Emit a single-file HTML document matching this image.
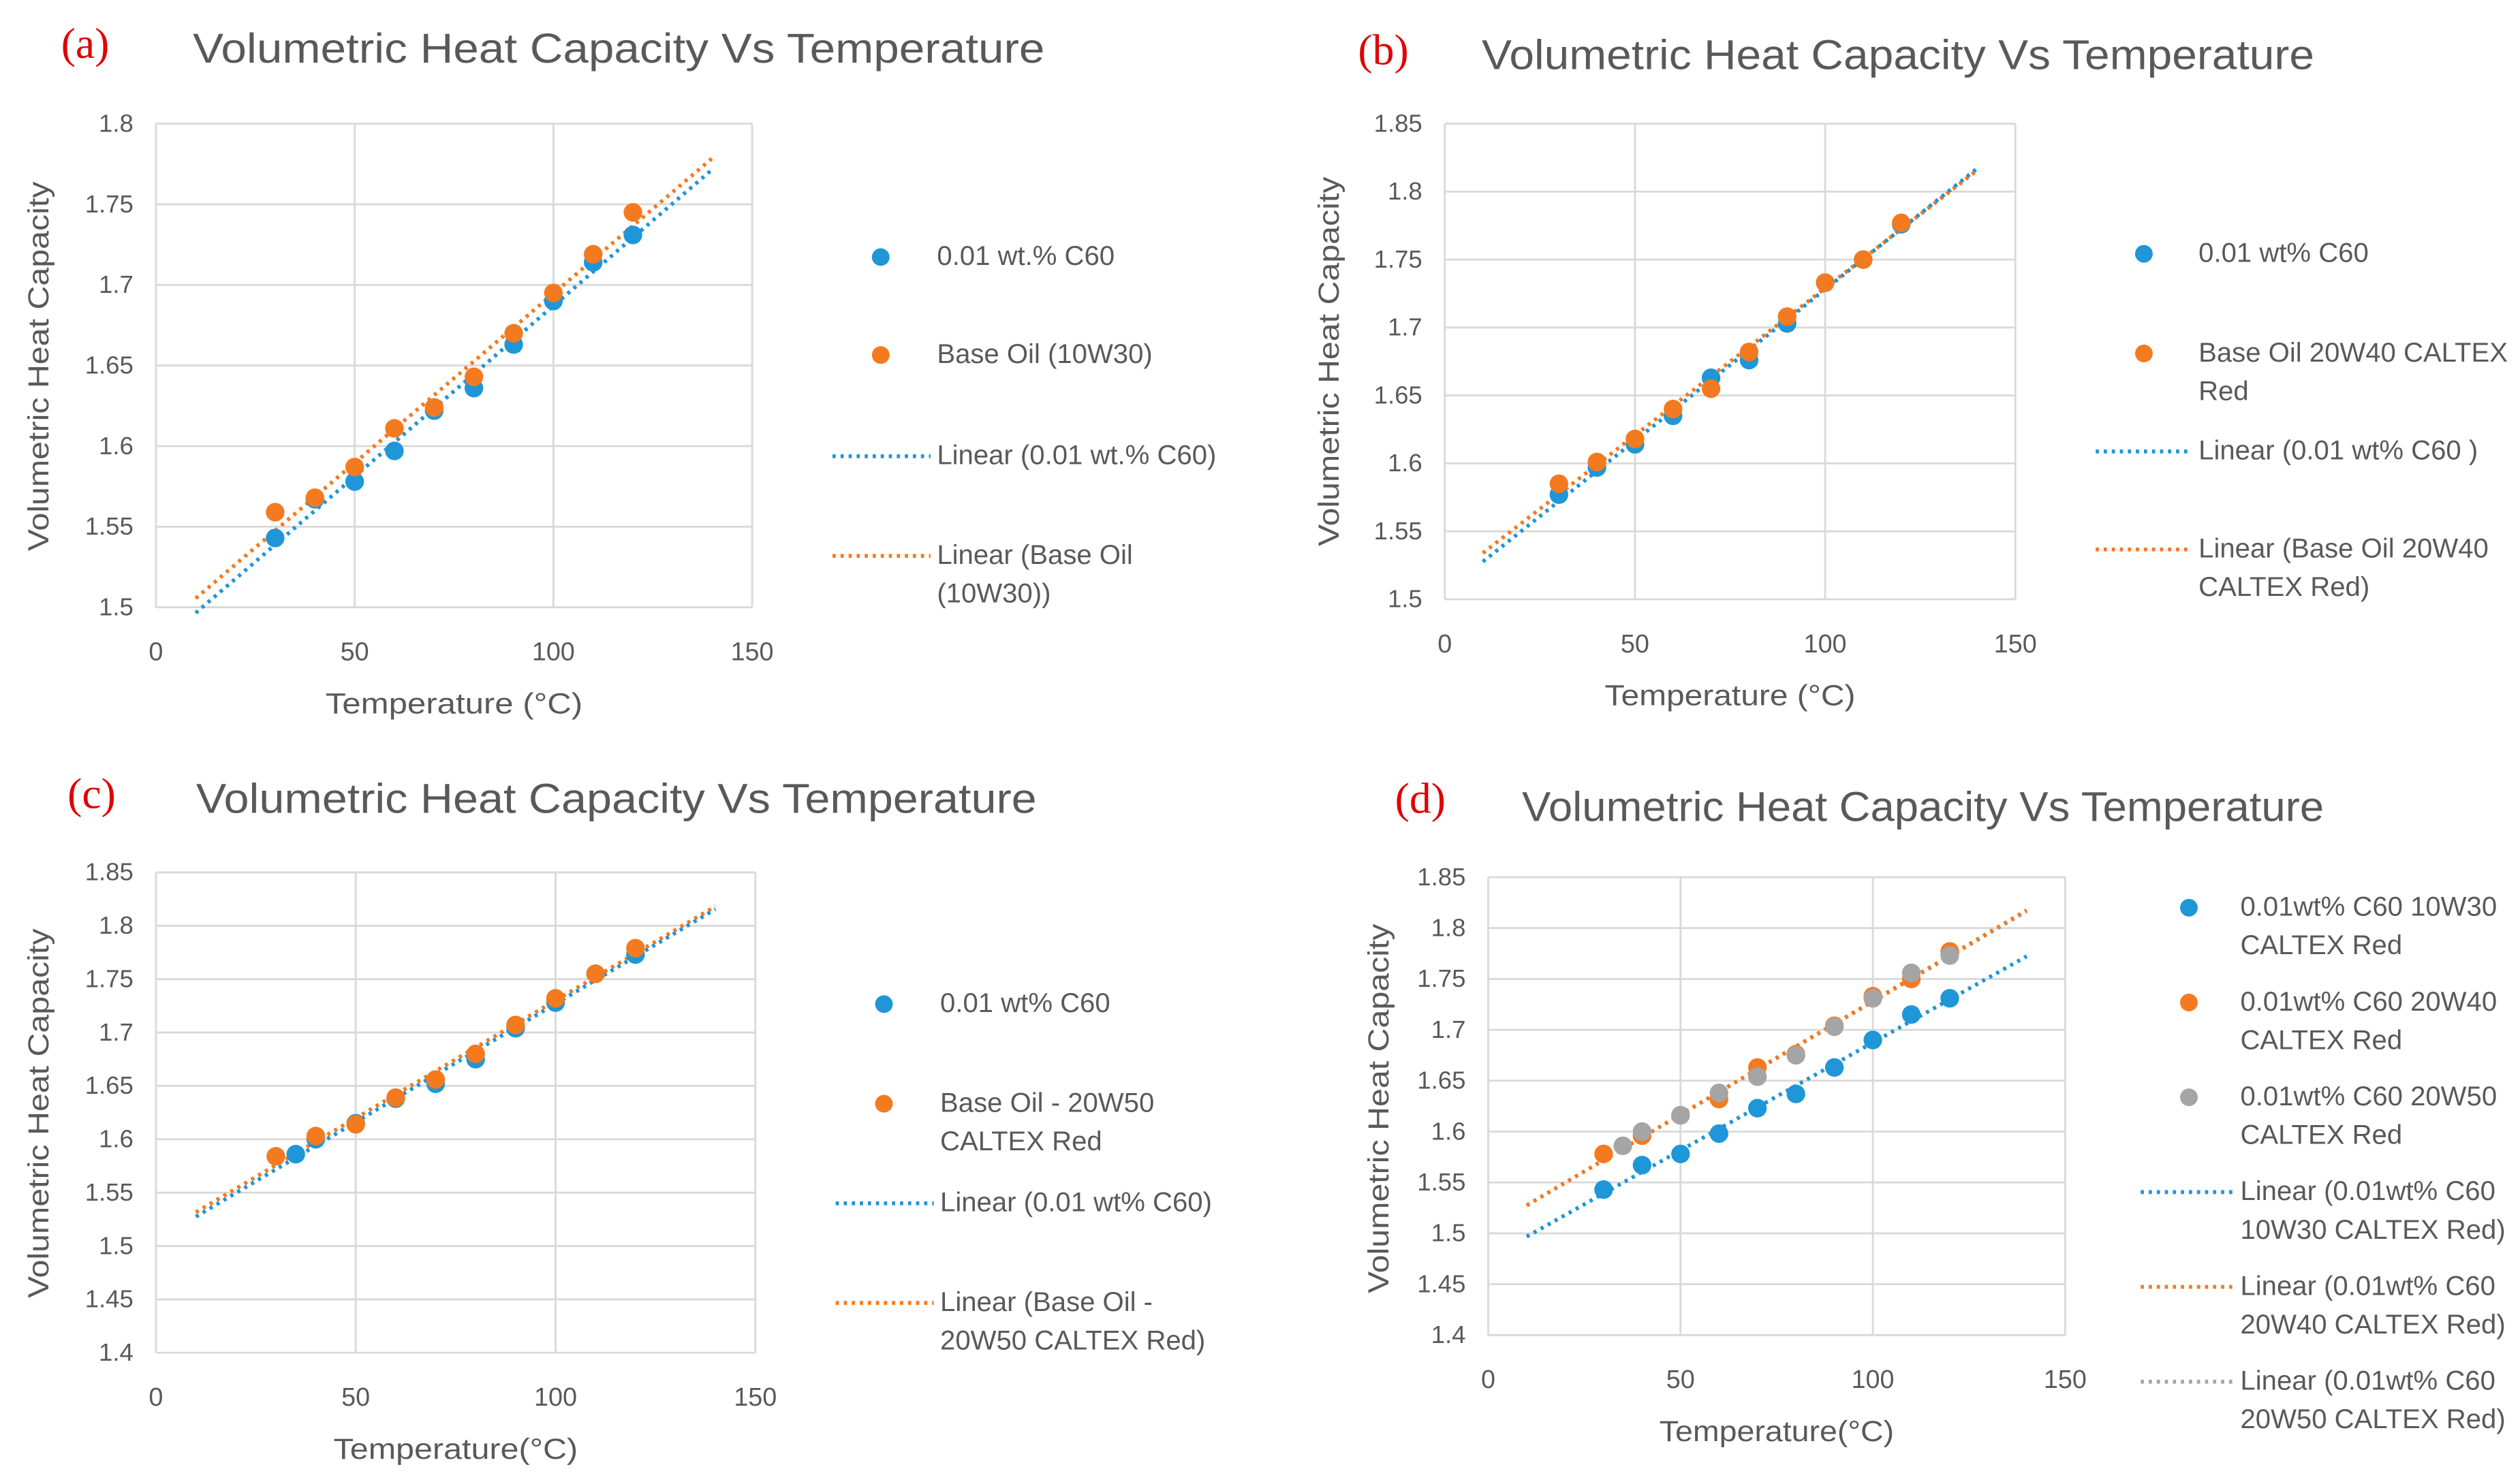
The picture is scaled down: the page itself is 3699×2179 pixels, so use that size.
<!DOCTYPE html>
<html><head><meta charset="utf-8">
<style>
html,body{margin:0;padding:0;background:#fff;}
svg{display:block;}
text{font-family:"Liberation Sans",sans-serif;fill:#595959;}
</style></head>
<body>
<svg id="fig" width="3699" height="2179" viewBox="0 0 1568 923.7" xmlns="http://www.w3.org/2000/svg"></svg>
<script>
// ---- data ----
const xsA = [30,40,50,60,70,80,90,100,110,120];
const aBlue = [1.543,1.567,1.578,1.597,1.622,1.636,1.663,1.690,1.714,1.731];
const aOrange = [1.559,1.568,1.587,1.611,1.624,1.643,1.670,1.695,1.719,1.745];
const xsB = [30,40,50,60,70,80,90,100,110,120];
const bBlue = [1.577,1.597,1.614,1.635,1.663,1.676,1.703,1.733,1.750,1.776];
const bOrange = [1.585,1.601,1.618,1.640,1.655,1.682,1.708,1.733,1.750,1.777];
const xsCBlue = [35,40,50,60,70,80,90,100,110,120];
const cBlue = [1.586,1.600,1.615,1.638,1.652,1.675,1.704,1.728,1.755,1.773];
const xsCOrange = [30,40,50,60,70,80,90,100,110,120];
const cOrange = [1.584,1.603,1.614,1.639,1.656,1.680,1.707,1.732,1.755,1.779];
const xsD = [30,40,50,60,70,80,90,100,110,120];
const dBlue = [1.543,1.567,1.578,1.598,1.623,1.637,1.663,1.690,1.715,1.731];
const dOrange = [1.578,1.596,1.616,1.632,1.663,1.676,1.704,1.733,1.750,1.777];
const xsDGray = [35,40,50,60,70,80,90,100,110,120];
const dGray = [1.586,1.600,1.616,1.638,1.654,1.675,1.703,1.731,1.756,1.773];
const xTicks = [0,50,100,150];
const yTicksA = ["1.5","1.55","1.6","1.65","1.7","1.75","1.8"];
const yTicksB = ["1.5","1.55","1.6","1.65","1.7","1.75","1.8","1.85"];
const yTicksC = ["1.4","1.45","1.5","1.55","1.6","1.65","1.7","1.75","1.8","1.85"];
const yTicksD = ["1.4","1.45","1.5","1.55","1.6","1.65","1.7","1.75","1.8","1.85"];

const NS="http://www.w3.org/2000/svg";
const svg=document.getElementById('fig');
const BLUE="#1f96d8", ORANGE="#f47a20", GRAY="#a5a5a5";
function mk(tag,attrs,parent){const e=document.createElementNS(NS,tag);for(const k in attrs)e.setAttribute(k,attrs[k]);(parent||svg).appendChild(e);return e;}
function txt(s,attrs,parent){const e=mk('text',attrs,parent);e.textContent=s;return e;}
function fit(xs,ys){const n=xs.length;let sx=0,sy=0,sxx=0,sxy=0;for(let i=0;i<n;i++){sx+=xs[i];sy+=ys[i];sxx+=xs[i]*xs[i];sxy+=xs[i]*ys[i];}const m=(n*sxy-sx*sy)/(n*sxx-sx*sx);return [m,(sy-m*sx)/n];}

function panel(p){
  const g=mk('g',{});
  
  
  const ymin=parseFloat(p.yTicks[0]), ymax=parseFloat(p.yTicks[p.yTicks.length-1]);
  const X=v=>p.x0+(v-0)/150*(p.x1-p.x0);
  const Y=v=>p.y1+(v-ymin)/(ymax-ymin)*(p.y0-p.y1);
  const lab=txt(p.letter,{x:p.lx,y:p.ly,'font-size':27,style:'fill:#e00000;font-family:"Liberation Serif",serif'},g);
  
  const t=txt('Volumetric Heat Capacity Vs Temperature',{x:p.tx,y:p.ty,'font-size':26,textLength:p.tw,lengthAdjust:'spacingAndGlyphs'},g);
  
  p.yTicks.forEach(s=>{const v=parseFloat(s);
    const l=mk('line',{x1:p.x0,x2:p.x1,y1:Y(v),y2:Y(v),stroke:'#d9d9d9','stroke-width':1.2},g);
    
    const tt=txt(s,{x:p.x0-14,y:Y(v)+5,'font-size':15.5,'text-anchor':'end'},g);
    
  });
  xTicks.forEach(v=>{
    const l=mk('line',{x1:X(v),x2:X(v),y1:p.y0,y2:p.y1,stroke:'#d9d9d9','stroke-width':1.2},g);
    
    const tt=txt(String(v),{x:X(v),y:p.y1+33,'font-size':16,'text-anchor':'middle'},g);
    
  });
  const yt=txt('Volumetric Heat Capacity',{x:0,y:0,'font-size':18,'text-anchor':'middle',textLength:230,lengthAdjust:'spacingAndGlyphs',transform:`translate(${p.ytx},${p.yty}) rotate(-90)`},g);
  
  const xt=txt(p.xTitle,{x:(p.x0+p.x1)/2,y:p.y1+66,'font-size':18,'text-anchor':'middle',textLength:p.xtw,lengthAdjust:'spacingAndGlyphs'},g);
  
  p.series.slice().reverse().forEach(s=>{const [m,b]=fit(s.xs,s.ys);
    const l=mk('line',{x1:X(10),y1:Y(m*10+b),x2:X(140),y2:Y(m*140+b),stroke:s.color,'stroke-width':2.4,'stroke-dasharray':'2 3'},g);
    
  });
  p.series.forEach(s=>{s.xs.forEach((xv,i)=>{
    const c=mk('circle',{cx:X(xv),cy:Y(s.ys[i]),r:5.8,fill:s.color},g);
    
  });});
  p.legend.forEach(e=>{
    if(e.type==='m'){const c=mk('circle',{cx:p.mx,cy:e.y-5,r:5.5,fill:e.color},g);
      }
    else{const l=mk('line',{x1:p.mx-30,x2:p.tx2-4,y1:e.y-5,y2:e.y-5,stroke:e.color,'stroke-width':2.4,'stroke-dasharray':'2 3'},g);
      }
    e.lines.forEach((s,k)=>{const tt=txt(s,{x:p.tx2,y:e.y+k*24,'font-size':17},g);
      });
  });
}

panel({name:'panel-a',letter:'(a)',lx:38,ly:36,tx:120,ty:39,tw:530,x0:97,x1:468,y0:77,y1:378,yTicks:yTicksA,ytx:30,yty:228,xTitle:'Temperature (°C)',xtw:160,
  series:[{xs:xsA,ys:aBlue,color:BLUE},{xs:xsA,ys:aOrange,color:ORANGE}],
  mx:548,tx2:583,legend:[{type:'m',color:BLUE,y:165,lines:['0.01 wt.% C60']},{type:'m',color:ORANGE,y:226,lines:['Base Oil (10W30)']},
  {type:'l',color:BLUE,y:289,lines:['Linear (0.01 wt.% C60)']},{type:'l',color:ORANGE,y:351,lines:['Linear (Base Oil','(10W30))']}]});
panel({name:'panel-b',letter:'(b)',lx:845,ly:40,tx:922,ty:43,tw:518,x0:899,x1:1254,y0:77,y1:373,yTicks:yTicksB,ytx:833,yty:225,xTitle:'Temperature (°C)',xtw:156,
  series:[{xs:xsB,ys:bBlue,color:BLUE},{xs:xsB,ys:bOrange,color:ORANGE}],
  mx:1334,tx2:1368,legend:[{type:'m',color:BLUE,y:163,lines:['0.01 wt% C60']},{type:'m',color:ORANGE,y:225,lines:['Base Oil 20W40 CALTEX','Red']},
  {type:'l',color:BLUE,y:286,lines:['Linear (0.01 wt% C60 )']},{type:'l',color:ORANGE,y:347,lines:['Linear (Base Oil 20W40','CALTEX Red)']}]});
panel({name:'panel-c',letter:'(c)',lx:42,ly:503,tx:122,ty:506,tw:523,x0:97,x1:470,y0:543,y1:842,yTicks:yTicksC,ytx:30,yty:693,xTitle:'Temperature(°C)',xtw:152,
  series:[{xs:xsCBlue,ys:cBlue,color:BLUE},{xs:xsCOrange,ys:cOrange,color:ORANGE}],
  mx:550,tx2:585,legend:[{type:'m',color:BLUE,y:630,lines:['0.01 wt% C60']},{type:'m',color:ORANGE,y:692,lines:['Base Oil - 20W50','CALTEX Red']},
  {type:'l',color:BLUE,y:754,lines:['Linear (0.01 wt% C60)']},{type:'l',color:ORANGE,y:816,lines:['Linear (Base Oil -','20W50 CALTEX Red)']}]});
panel({name:'panel-d',letter:'(d)',lx:868,ly:506,tx:947,ty:511,tw:499,x0:926,x1:1285,y0:546,y1:831,yTicks:yTicksD,ytx:864,yty:690,xTitle:'Temperature(°C)',xtw:146,
  series:[{xs:xsD,ys:dBlue,color:BLUE},{xs:xsD,ys:dOrange,color:ORANGE},{xs:xsDGray,ys:dGray,color:GRAY}],
  mx:1362,tx2:1394,legend:[{type:'m',color:BLUE,y:570,lines:['0.01wt% C60 10W30','CALTEX Red']},{type:'m',color:ORANGE,y:629,lines:['0.01wt% C60 20W40','CALTEX Red']},
  {type:'m',color:GRAY,y:688,lines:['0.01wt% C60 20W50','CALTEX Red']},{type:'l',color:BLUE,y:747,lines:['Linear (0.01wt% C60','10W30 CALTEX Red)']},
  {type:'l',color:ORANGE,y:806,lines:['Linear (0.01wt% C60','20W40 CALTEX Red)']},{type:'l',color:GRAY,y:865,lines:['Linear (0.01wt% C60','20W50 CALTEX Red)']}]});
</script>
</body></html>
